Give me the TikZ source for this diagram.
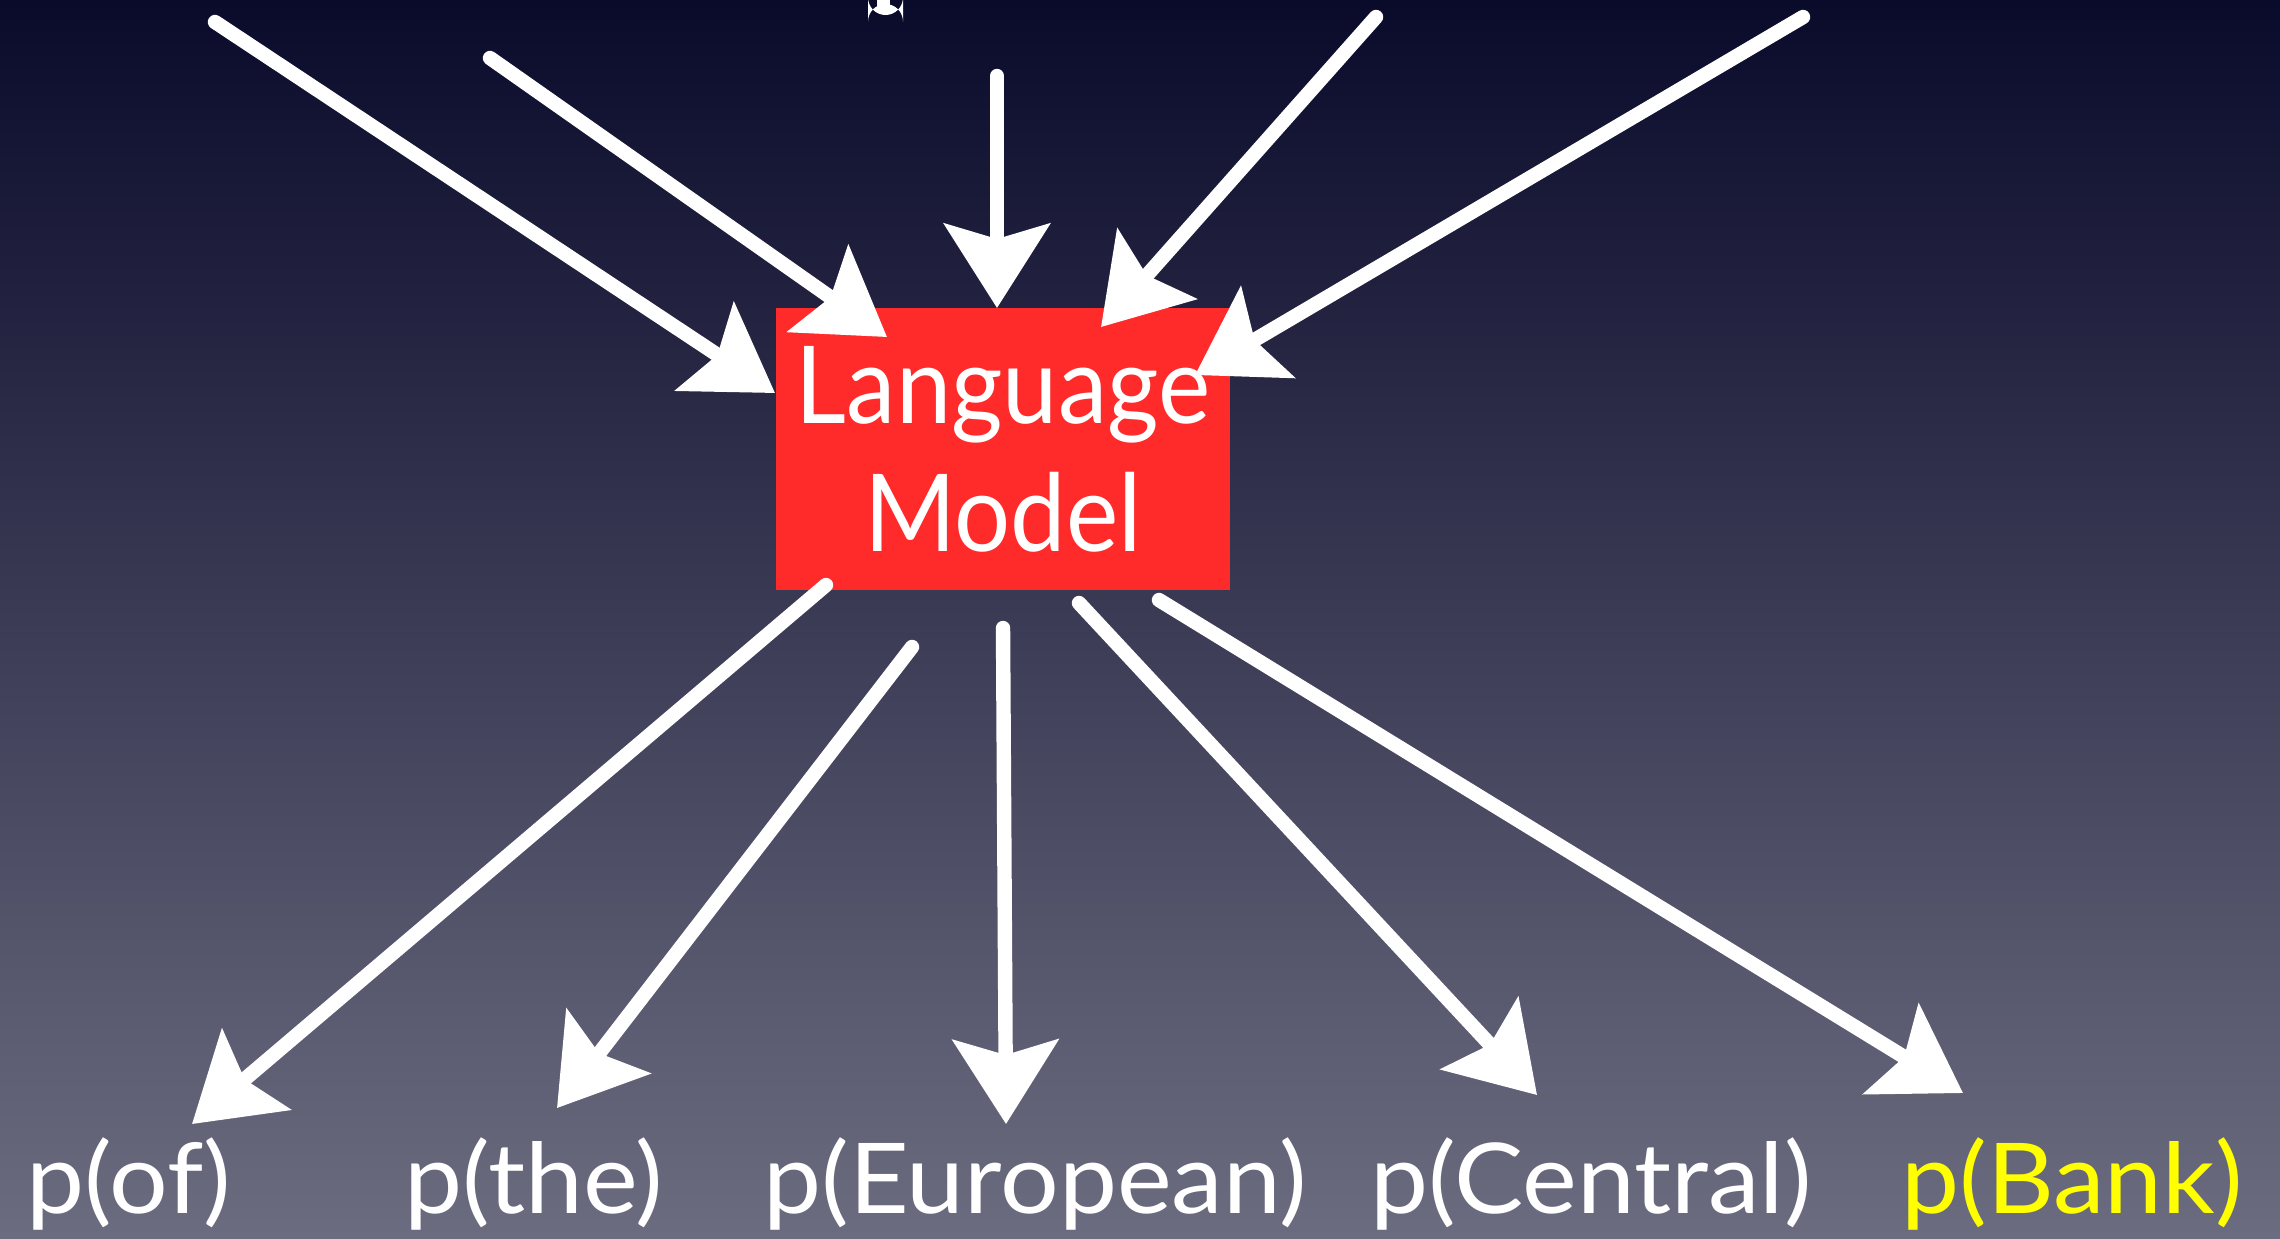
\documentclass[tikz,border=0pt]{standalone}
\usepackage{fontspec}
\usetikzlibrary{arrows.meta}
\newfontfamily\boxfont[FakeStretch=0.92]{Lato}
\newfontfamily\wordfont[FakeStretch=1.06]{Lato}
\definecolor{bgtop}{HTML}{0A0A2B}
\definecolor{bgmid}{HTML}{3B3A60}
\definecolor{bgbot}{HTML}{6C6C80}
\definecolor{lmred}{HTML}{FF2A2A}
\definecolor{hiyellow}{HTML}{FFFF00}
\tikzset{
  chalk/.style={draw=white, line width=4.1pt, line cap=round,
    -{Stealth[length=0.84cm, width=1.05cm, inset=0.15cm, fill=white]}},
  modelbox/.style={fill=lmred, inner sep=0pt, minimum width=4.54cm, minimum height=2.82cm,
    text=white, align=center, font=\boxfont\fontsize{30.6pt}{36.4pt}\selectfont},
  prob/.style={anchor=base, inner sep=0pt, text=white, font=\wordfont\fontsize{27.8pt}{32pt}\selectfont}
}
\begin{document}
\begin{tikzpicture}[x=0.01cm, y=-0.01cm]
  \useasboundingbox (0,0) rectangle (2280,1238);
  % backdrop
  \shade[top color=bgtop, middle color=bgmid, bottom color=bgbot] (0,0) rectangle (2280,1238);
  % foot of a glyph cut off by the top edge
  \fill[white] (877,-5) rectangle (890,7);
  \fill[white, rounded corners=5] (868,4) rectangle (903,15);

  % the model
  \node[modelbox] (lm) at (1003,449) {Language\\Model};

  % word probabilities
  \node[prob] (pof)  at (129,1213)  {p(of)};
  \node[prob] (pthe) at (534,1213)  {p(the)};
  \node[prob] (peur) at (1035,1213) {p(European)};
  \node[prob] (pcen) at (1591,1213) {p(Central)};
  \node[prob, text=hiyellow] (pbank) at (2072,1213) {p(Bank)};

  % arrow ends
  \coordinate (i1) at (215,22);   \coordinate (i1t) at (775,393);
  \coordinate (i2) at (490,58);   \coordinate (i2t) at (887,337);
  \coordinate (i3) at (997,76);   \coordinate (i3t) at (997,308);
  \coordinate (i4) at (1376,17);  \coordinate (i4t) at (1101,327);
  \coordinate (i5) at (1803,17);  \coordinate (i5t) at (1195,375);
  \coordinate (o1) at (826,585);  \coordinate (o1t) at (192,1124);
  \coordinate (o2) at (912,647);  \coordinate (o2t) at (557,1108);
  \coordinate (o3) at (1003,628); \coordinate (o3t) at (1006,1124);
  \coordinate (o4) at (1079,603); \coordinate (o4t) at (1537,1095);
  \coordinate (o5) at (1159,600); \coordinate (o5t) at (1963,1093);

  % inputs into the model
  \foreach \a in {i1,i2,i3,i4,i5} { \draw[chalk] (\a) -- (\a t); }
  % outputs towards the words
  \foreach \a in {o1,o2,o3,o4,o5} { \draw[chalk] (\a) -- (\a t); }
\end{tikzpicture}
\end{document}
